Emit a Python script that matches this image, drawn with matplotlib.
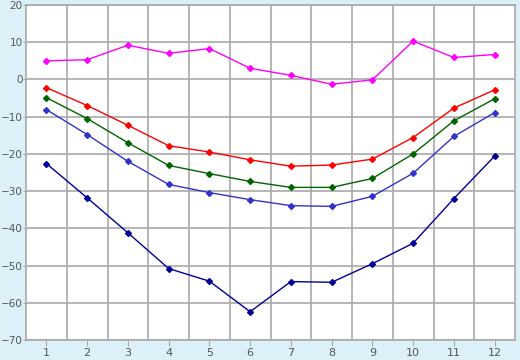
#!/usr/bin/env python3
"""
Monthly line chart: five series over months 1..12
"""

import matplotlib
matplotlib.use("Agg")
import matplotlib.pyplot as plt

months = list(range(1, 13))
magenta = [5.0, 5.3, 9.2, 7.0, 8.3, 3.0, 1.1, -1.3, -0.1, 10.3, 5.9, 6.7]
red = [-2.2, -7.0, -12.3, -17.8, -19.5, -21.6, -23.3, -23.0, -21.4, -15.6, -7.7, -2.8]
green = [-4.9, -10.5, -17.0, -23.1, -25.3, -27.4, -29.0, -29.0, -26.6, -20.0, -11.1, -5.2]
blue = [-8.1, -14.8, -22.0, -28.2, -30.4, -32.3, -33.9, -34.1, -31.4, -25.2, -15.3, -8.9]
navy = [-22.6, -31.8, -41.2, -50.8, -54.2, -62.4, -54.3, -54.5, -49.5, -44.0, -32.0, -20.6]

series = [
    (magenta, "#ff00ff"),
    (red, "#ff0000"),
    (green, "#006400"),
    (blue, "#3333cc"),
    (navy, "#000099"),
]


def main():
    fig = plt.figure(figsize=(5.2, 3.6), dpi=100, facecolor="#dcf0f8")
    ax = fig.add_axes([26 / 520, 20 / 360, 489 / 520, 335 / 360])
    ax.set_facecolor("white")

    for values, color in series:
        ax.plot(months, values, color=color, lw=1.0, marker="D", ms=3.0,
                mec=color, mfc=color, zorder=3)

    ax.set_xlim(0.5, 12.5)
    ax.set_ylim(-70, 20)
    ax.set_yticks(range(-70, 21, 10))
    ax.set_yticklabels([str(v).replace("-", "\u2212") for v in range(-70, 21, 10)])
    ax.set_xticks(months)
    ax.set_xticks([m + 0.5 for m in months[:-1]], minor=True)

    ax.grid(True, which="major", axis="y", color="#a9a9a9", lw=1.2)
    ax.grid(True, which="minor", axis="x", color="#a9a9a9", lw=1.2)
    for sp in ax.spines.values():
        sp.set_color("#a9a9a9")
        sp.set_linewidth(1.2)

    ax.tick_params(axis="x", which="major", length=4, color="#a9a9a9",
                   labelsize=8, labelcolor="#555555", pad=2)
    ax.tick_params(axis="x", which="minor", length=0)
    ax.tick_params(axis="y", length=2, color="#a9a9a9", labelsize=7.5,
                   labelcolor="#555555", pad=0.5)

    fig.savefig("out.png", dpi=100, facecolor=fig.get_facecolor())


if __name__ == "__main__":
    main()
